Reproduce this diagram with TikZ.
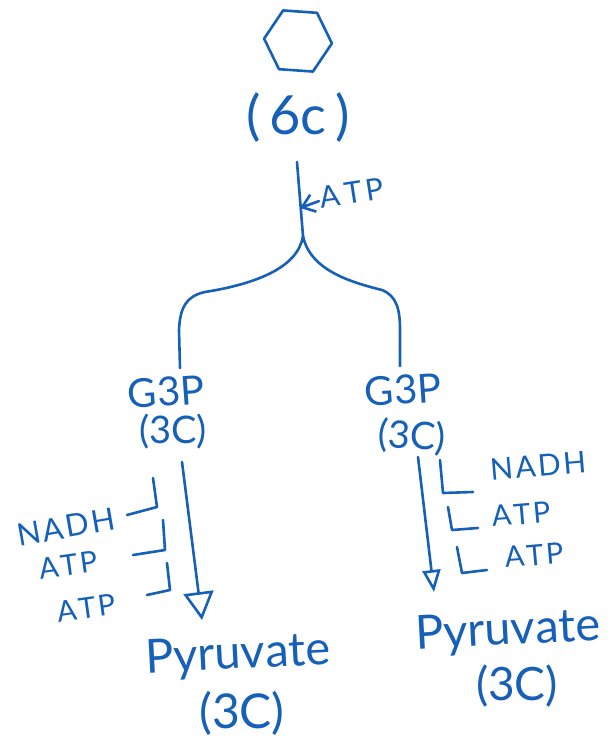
\documentclass[tikz,border=0pt]{standalone}
\usepackage{fontspec}
\setmainfont{Lato}[Kerning=Off]
\newfontfamily\spaced{Lato}[Kerning=Off, LetterSpace=8]
\newfontfamily\wide{Lato}[Kerning=Off, LetterSpace=14]
\usetikzlibrary{arrows.meta,shapes.geometric}
\definecolor{ink}{RGB}{22,96,184}
\tikzset{
  pen/.style={draw=ink, line width=2.6pt, line cap=round, line join=round},
  lbl/.style={text=ink, inner sep=0pt, font=\fontsize{#1}{#1}\selectfont},
  lbl/.default=36,
  slbl/.style={text=ink, inner sep=0pt, font=\spaced\fontsize{#1}{#1}\selectfont},
  wlbl/.style={text=ink, inner sep=0pt, font=\wide\fontsize{#1}{#1}\selectfont},
}
\begin{document}
\begin{tikzpicture}[x=1pt,y=-1pt]
\useasboundingbox (0,0) rectangle (613,753);
% top
\node[pen, regular polygon, regular polygon sides=6, minimum size=68pt, inner sep=0pt, rotate=-4] (hex) at (298,41) {};
\node[lbl=54] (sixc) at (298,118) {(\,6c\,)};
\node[wlbl=30, rotate=9] (atp) at (352,193) {ATP};
% branch lines
\coordinate (top) at (297,162);
\coordinate (split) at (303,236);
\coordinate (hit) at (300,208);
\draw[pen] (top) -- (split);
\draw[pen, -{Straight Barb[length=12pt,width=18pt]}] (atp.west) ++(-1,3) -- (hit);
\node[lbl=40, rotate=4] (g3pL) at (166,392) {G3P};
\node[lbl=38] (c3L) at (173,432) {(3C)};
\node[lbl=40, rotate=4] (g3pR) at (403,390) {G3P};
\node[lbl=38, rotate=-4] (c3R) at (412,437) {(3C)};
\draw[pen] (split) .. controls (298,268) and (255,284) .. (205,292)
  .. controls (186,296) and (180,308) .. (179,330) -- (180,368);
\draw[pen] (split) .. controls (310,270) and (350,282) .. (382,290)
  .. controls (397,296) and (400,310) .. (400,330) -- (400,366);
% left descent
\coordinate (aL0) at (182,462);
\coordinate (aL1) at (202,620);
\draw[pen, -{Triangle[open, length=28pt, width=30pt, line width=2.6pt]}] (aL0) -- (aL1);
\node[slbl=31, rotate=10] (nadhL) at (66,527) {NADH};
\node[slbl=29, rotate=8] (atpL1) at (68,565) {ATP};
\node[slbl=29, rotate=8] (atpL2) at (86,608) {ATP};
\draw[pen] (127,515) -- (157,507) -- (153,478);
\draw[pen] (133,555) -- (165,550) -- (163,520);
\draw[pen] (147,595) -- (170,590) -- (167,563);
\node[lbl=47, rotate=3] (pyrL) at (238,656) {Pyruvate};
\node[lbl=48] (c3pL) at (242,713) {(3C)};
% right descent
\coordinate (aR0) at (418,457);
\coordinate (aR1) at (434,592);
\draw[pen, -{Triangle[open, length=22pt, width=18pt, line width=2.6pt]}] (aR0) -- (aR1);
\node[slbl=30, rotate=5] (nadhR) at (538,466) {NADH};
\node[slbl=29, rotate=5] (atpR1) at (521,514) {ATP};
\node[slbl=29, rotate=5] (atpR2) at (534,555) {ATP};
\draw[pen] (440,460) -- (443,493) -- (473,492);
\draw[pen] (448,507) -- (452,530) -- (478,528);
\draw[pen] (457,547) -- (462,573) -- (487,570);
\node[lbl=47, rotate=3] (pyrR) at (508,632) {Pyruvate};
\node[lbl=46] (c3pR) at (517,686) {(3C)};
\end{tikzpicture}
\end{document}
